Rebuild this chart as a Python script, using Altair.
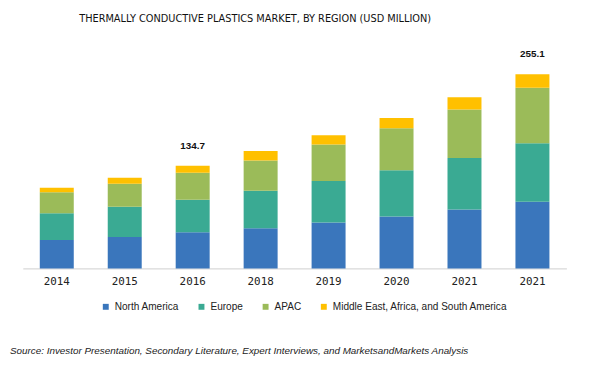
import altair as alt
import pandas as pd

years = ["2014", "2015", "2016", "2018", "2019", "2020", "2021", "2021"]
series = ["North America", "Europe", "APAC", "Middle East, Africa, and South America"]
colors = ["#3A76BC", "#3AAA93", "#9BBB59", "#FFC000"]
north_america = [37.3, 41.2, 47.4, 52.8, 60.3, 68.1, 77.2, 87.6]
europe = [35.0, 39.7, 42.8, 49.2, 54.4, 60.8, 67.8, 76.9]
apac = [27.7, 30.2, 35.4, 39.7, 47.9, 55.3, 63.8, 72.9]
mea = [6.0, 7.8, 9.1, 12.5, 12.2, 13.3, 15.9, 17.7]
total_labels = ["", "", "134.7", "", "", "", "", "255.1"]

rows = []
for i, y in enumerate(years):
    for k, (s, vals) in enumerate(zip(series, [north_america, europe, apac, mea])):
        rows.append({"slot": i, "year": y, "series": s, "ord": k, "value": vals[i]})
df = pd.DataFrame(rows)

tot = pd.DataFrame({
    "slot": list(range(len(years))),
    "total": [a + b + c + d for a, b, c, d in zip(north_america, europe, apac, mea)],
    "label": total_labels,
})

label_expr = "[" + ",".join(f"'{y}'" for y in years) + "][datum.value]"

x_enc = alt.X("slot:O", title=None,
              scale=alt.Scale(paddingInner=0.5, paddingOuter=0.25),
              axis=alt.Axis(labelExpr=label_expr, labelAngle=0, ticks=False,
                            domainColor="#d9d9d9", domainWidth=1.5,
                            labelFont="DejaVu Sans Mono", labelFontSize=11,
                            labelColor="#222222", labelPadding=7))

bars = alt.Chart(df).mark_bar().encode(
    x=x_enc,
    y=alt.Y("value:Q", stack="zero", title=None,
            scale=alt.Scale(domain=[0, 300]), axis=None),
    color=alt.Color("series:N", scale=alt.Scale(domain=series, range=colors),
                    legend=alt.Legend(title=None, orient="none", direction="horizontal",
                                      legendX=79, legendY=265,
                                      symbolType="square", symbolSize=36,
                                      symbolStrokeWidth=0,
                                      labelFont="Liberation Sans", labelFontSize=10.2,
                                      labelColor="#222222", labelOffset=4,
                                      labelLimit=400, columnPadding=17)),
    order=alt.Order("ord:Q", sort="ascending"),
)

labels = alt.Chart(tot).transform_filter("datum.label != ''").mark_text(
    baseline="bottom", dy=-15, font="Liberation Sans", fontSize=10,
    fontWeight="bold", color="#111111"
).encode(
    x=alt.X("slot:O"),
    y=alt.Y("total:Q"),
    text="label:N",
)

source_df = pd.DataFrame({"t": ["Source: Investor Presentation, Secondary Literature, Expert Interviews, and MarketsandMarkets Analysis"]})
source = alt.Chart(source_df).mark_text(
    align="left", baseline="middle", font="Liberation Sans", fontSize=10,
    fontStyle="italic", color="#222222"
).encode(
    x=alt.value(-13),
    y=alt.value(315),
    text="t:N",
)

chart = alt.layer(bars, labels, source).properties(
    width=551,
    height=231.5,
    title=alt.TitleParams(
        "THERMALLY CONDUCTIVE PLASTICS MARKET, BY REGION (USD MILLION)",
        font="'DejaVu Sans Condensed', 'Liberation Sans Narrow', 'Arial Narrow', sans-serif",
        fontSize=11, fontWeight="normal",
        color="#111111", anchor="middle", dx=-40, offset=16,
    ),
    autosize=alt.AutoSizeParams(type="none"),
    padding={"left": 15, "top": 30, "right": 31, "bottom": 95},
).configure_view(stroke=None).configure_axis(grid=False)

chart.save("out.html", embed_options={"renderer": "svg", "actions": False})
